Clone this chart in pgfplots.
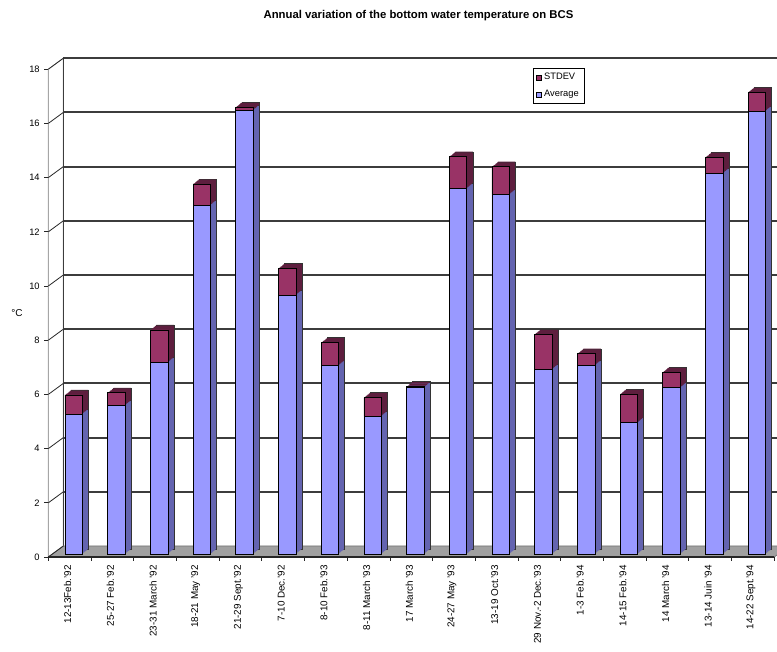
\documentclass[border=0pt]{standalone}
\usepackage{fontspec}
\setmainfont{Liberation Sans}
\usepackage{pgfplots}
\pgfplotsset{compat=1.18}

\definecolor{blueF}{HTML}{9999FF}
\definecolor{blueS}{HTML}{6464B0}
\definecolor{purF}{HTML}{993366}
\definecolor{purS}{HTML}{5E1E3E}
\definecolor{floorC}{HTML}{A0A0A0}
\definecolor{gridC}{HTML}{3C3C3C}

% depth of a column: a sweep of shifted copies behind the front face
\tikzset{
  coldepth/.style={
    preaction={fill=#1, draw=black!80, line width=0.3pt, transform canvas={shift={(4.5pt,3.75pt)}}},
    preaction={fill=#1, draw=none, transform canvas={shift={(3.9pt,3.25pt)}}},
    preaction={fill=#1, draw=none, transform canvas={shift={(3.3pt,2.75pt)}}},
    preaction={fill=#1, draw=none, transform canvas={shift={(2.7pt,2.25pt)}}},
    preaction={fill=#1, draw=none, transform canvas={shift={(2.1pt,1.75pt)}}},
    preaction={fill=#1, draw=none, transform canvas={shift={(1.5pt,1.25pt)}}},
    preaction={fill=#1, draw=none, transform canvas={shift={(0.9pt,0.75pt)}}},
    preaction={fill=#1, draw=none, transform canvas={shift={(0.3pt,0.25pt)}}},
  },
  frontpl/.style={shift={(-3pt,-2.25pt)}},
  backpl/.style={shift={(8.25pt,6pt)}},
}

\begin{document}
\begin{tikzpicture}
\useasboundingbox (0,0) rectangle (582.75pt,489pt);
\begin{axis}[
  at={(39.2625pt,73.5pt)}, anchor=south west,
  scale only axis, width=544.425pt, height=365.85pt,
  ybar stacked, reverse stacked plots=false, bar width=13.125pt,
  xmin=-0.5, xmax=16.5, ymin=0, ymax=18,
  clip=false,
  axis line style={draw=none},
  tick style={draw=none},
  xtick={0,...,16},
  xticklabels={12-13Feb.'92, 25-27 Feb.'92, 23-31 March '92, 18-21 May  '92,
    21-29 Sept.'92, 7-10 Dec.'92, 8-10 Feb.'93, 8-11 March '93, 17 March '93,
    24-27 May '93, 13-19 Oct.'93, 29 Nov.-2 Dec.'93, 1-3 Feb.'94, 14-15 Feb.'94,
    14 March '94, 13-14 Juin '94, 14-22 Sept.'94},
  xticklabel style={font=\fontsize{7.4}{8}\selectfont, inner sep=0pt,
    xshift=-4.5pt, yshift=-8.25pt, rotate=90, anchor=east},
  ytick={0,2,...,18},
  /pgf/number format/assume math mode=true,
  yticklabel style={font=\fontsize{7}{8}\selectfont, inner sep=0pt,
    anchor=east, xshift=-9.3pt, yshift=-2.25pt},
  ylabel={°C},
  ylabel style={rotate=-90, at={(axis description cs:-0.0487,0.494)},
    anchor=center, font=\fontsize{7.5}{8}\selectfont},
  title={Annual variation of the bottom water temperature on BCS},
  title style={at={(axis description cs:0.5044,1.087)}, anchor=center,
    font=\fontsize{8.5}{10}\selectfont\bfseries},
  legend style={at={(axis description cs:0.6621,0.9963)}, anchor=north west,
    draw=black, line width=0.5pt, font=\fontsize{7}{8}\selectfont,
    inner xsep=2pt, inner ysep=1.5pt, row sep=2.5pt, cells={anchor=west}},
]

% left side wall
\draw[gray!70, fill=white, line width=0.6pt]
  ([frontpl]axis cs:-0.5,0) -- ([frontpl]axis cs:-0.5,18)
  -- ([backpl]axis cs:-0.5,18) -- ([backpl]axis cs:-0.5,0) -- cycle;
% back wall: left edge and gridlines
\draw[gridC, line width=0.8pt] ([backpl]axis cs:-0.5,0) -- ([backpl]axis cs:-0.5,18);
\pgfplotsinvokeforeach{2,4,...,18}{
  \draw[gridC, line width=1.5pt] ([backpl]axis cs:-0.5,#1) -- ([backpl]axis cs:17.2,#1);
}
% floor
\draw[floorC!70!black, fill=floorC, line width=0.5pt]
  ([frontpl]axis cs:-0.5,0) -- ([frontpl]axis cs:16.5,0)
  -- ([backpl]axis cs:16.5,0) -- ([backpl]axis cs:-0.5,0) -- cycle;
\draw[black!85, line width=1.3pt] ([frontpl]axis cs:-0.5,0) -- ([frontpl]axis cs:16.5,0);
% value ticks on the front edge and their links to the back wall
\pgfplotsinvokeforeach{0,2,...,18}{
  \draw[black!85, line width=0.6pt] ([frontpl]axis cs:-0.5,#1) -- ([backpl]axis cs:-0.5,#1);
  \draw[black!85, line width=0.6pt] ([shift={(-6pt,-2.25pt)}]axis cs:-0.5,#1) -- ([frontpl]axis cs:-0.5,#1);
}
% category ticks below the floor
\pgfplotsinvokeforeach{-0.5,0.5,...,16.5}{
  \draw[black!85, line width=0.6pt] ([frontpl]axis cs:#1,0) -- ([shift={(-3pt,-5pt)}]axis cs:#1,0);
}

% legend entries (the columns themselves are kept out of the legend)
\addlegendimage{legend image code/.code={\draw[fill=purF, draw=black, line width=0.3pt] (0pt,-1.9pt) rectangle (3.8pt,1.9pt);}}
\addlegendentry{STDEV}
\addlegendimage{legend image code/.code={\draw[fill=blueF, draw=black, line width=0.3pt] (0pt,-1.9pt) rectangle (3.8pt,1.9pt);}}
\addlegendentry{Average}

% Average
\addplot[forget plot, fill=blueF, draw=black, line width=0.4pt, coldepth=blueS]
  coordinates {
  (0,5.17) (1,5.49) (2,7.07) (3,12.88) (4,16.38) (5,9.56) (6,6.96) (7,5.09)
  (8,6.15) (9,13.49) (10,13.27) (11,6.82) (12,6.96) (13,4.85) (14,6.14)
  (15,14.05) (16,16.35)};
% STDEV, stacked on the average
\addplot[forget plot, fill=purF, draw=black, line width=0.4pt, coldepth=purS]
  coordinates {
  (0,0.70) (1,0.46) (2,1.20) (3,0.77) (4,0.11) (5,0.98) (6,0.84) (7,0.68)
  (8,0.03) (9,1.17) (10,1.02) (11,1.29) (12,0.43) (13,1.05) (14,0.57)
  (15,0.59) (16,0.69)};
\end{axis}
\end{tikzpicture}
\end{document}
